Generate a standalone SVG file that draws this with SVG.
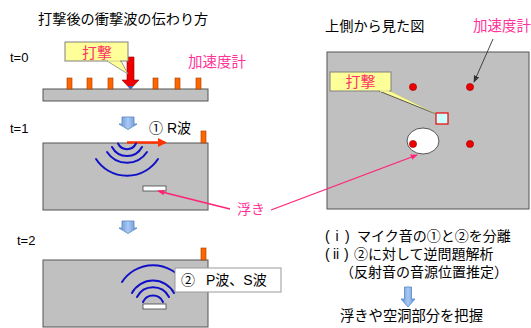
<svg xmlns="http://www.w3.org/2000/svg" width="531" height="328" viewBox="0 0 531 328">
  <style>
    .t { font-family: "Liberation Sans", "Noto Sans CJK JP", sans-serif; fill: #000; }
    .pink { fill: #ff3399; }
    .hit { fill: #ff3366; }
    .slab { fill: #c0c0c0; stroke: #555; stroke-width: 1; }
    .sensor { fill: #ff6600; stroke: #a03a00; stroke-width: 0.6; }
    .wave { fill: none; stroke: #1010c8; stroke-width: 2; stroke-linecap: round; }
    .callout { fill: #ffff99; stroke: #808080; stroke-width: 1; }
    .dot { fill: #ee0000; stroke: #990000; stroke-width: 0.6; }
    .down { fill: url(#blueGrad); stroke: #5b87c5; stroke-width: 0.8; }
    .lead { stroke: #ff2277; stroke-width: 1.3; fill: none; }
  </style>
  <defs>
    <linearGradient id="blueGrad" x1="0" y1="0" x2="1" y2="0">
      <stop offset="0" stop-color="#5d8fd8"/>
      <stop offset="0.5" stop-color="#a9c9f2"/>
      <stop offset="1" stop-color="#5d8fd8"/>
    </linearGradient>
    <marker id="pinkHead" viewBox="0 0 10 10" refX="9" refY="5" markerWidth="7" markerHeight="7" orient="auto" markerUnits="userSpaceOnUse">
      <path d="M0,1 L10,5 L0,9 z" fill="#ff2277"/>
    </marker>
    <marker id="darkHead" viewBox="0 0 10 10" refX="9" refY="5" markerWidth="7" markerHeight="7" orient="auto" markerUnits="userSpaceOnUse">
      <path d="M0,1 L10,5 L0,9 z" fill="#333"/>
    </marker>
    <marker id="redHead" viewBox="0 0 10 10" refX="8" refY="5" markerWidth="9" markerHeight="9" orient="auto" markerUnits="userSpaceOnUse">
      <path d="M0,0 L10,5 L0,10 z" fill="#ff3300"/>
    </marker>
  </defs>

  <rect width="531" height="328" fill="#fff"/>

  <!-- left column: side views over time -->
  <text class="t" x="38" y="24" font-size="14.2">打撃後の衝撃波の伝わり方</text>

  <g id="step0">
    <text class="t" x="10" y="62" font-size="13">t=0</text>
    <rect class="slab" x="43" y="89" width="165" height="12"/>
    <g>
      <rect class="sensor" x="67" y="78" width="5" height="11"/>
      <rect class="sensor" x="87" y="78" width="5" height="11"/>
      <rect class="sensor" x="108" y="78" width="5" height="11"/>
      <rect class="sensor" x="153" y="78" width="5" height="11"/>
      <rect class="sensor" x="175" y="78" width="5" height="11"/>
      <rect class="sensor" x="196" y="78" width="5" height="11"/>
    </g>
    <text class="t pink" x="188" y="67" font-size="14.5">加速度計</text>
  </g>

  <g id="hammer">
    <path d="M127,57 H134 V80 H139 L130.5,89 L122,80 H127 Z" fill="#ee0000" stroke="#990000" stroke-width="0.6"/>
    <path d="M128,86 L130.5,89.5 L133,86 Z" fill="#3366cc"/>
  </g>

  <g id="hitCallout">
    <path d="M107,61 L128,74 L121,61 Z" fill="#ffff99" stroke="#808080" stroke-width="0.8"/>
    <rect class="callout" x="65" y="42" width="63" height="19"/>
    <path d="M108,61 H120" stroke="#ffff99" stroke-width="1.4"/>
    <text class="t hit" x="97" y="58" font-size="15" text-anchor="middle">打撃</text>
  </g>

  <g id="arrow1">
    <path class="down" d="M122,117 H134 V124 H137 L128,129.5 L119,124 H122 Z"/>
  </g>

  <g id="step1">
    <text class="t" x="10" y="133" font-size="13">t=1</text>
    <rect class="slab" x="43" y="143" width="165" height="67"/>
    <rect class="sensor" x="201" y="131" width="5" height="12"/>
    <!-- surface (Rayleigh) wave -->
    <path d="M127,142.5 H165" stroke="#ff3300" stroke-width="2.6" marker-end="url(#redHead)"/>
    <path class="wave" d="M118,143.5 A10,10 0 0 0 136,143.5"/>
    <path class="wave" d="M112,147 A17,17 0 0 0 142,147"/>
    <path class="wave" d="M107,152 A24,24 0 0 0 147,152"/>
    <path class="wave" d="M96,159 A37,37 0 0 0 158,159"/>
    <rect x="143" y="186" width="23" height="5" fill="#fff" stroke="#444" stroke-width="0.8"/>
    <text class="t" x="149" y="133" font-size="14">① R波</text>
  </g>

  <g id="arrow2">
    <path class="down" d="M122,221 H134 V228 H137 L128,233.5 L119,228 H122 Z"/>
  </g>

  <g id="step2">
    <text class="t" x="17" y="245" font-size="13">t=2</text>
    <rect class="slab" x="43" y="260" width="165" height="67"/>
    <rect class="sensor" x="201" y="248" width="5" height="12"/>
    <!-- reflected body waves -->
    <path class="wave" d="M143,302 A11,11 0 0 1 163,302"/>
    <path class="wave" d="M137,297 A18,18 0 0 1 169,297"/>
    <path class="wave" d="M132,293 A24,24 0 0 1 174,293"/>
    <path class="wave" d="M122,282 A37,37 0 0 1 184,282"/>
    <rect x="143" y="304" width="23" height="5" fill="#fff" stroke="#444" stroke-width="0.8"/>
    <g id="waveLabel">
      <rect x="175" y="268" width="106" height="24" fill="#fff" stroke="#999" stroke-width="1"/>
      <text class="t" y="284.5" font-size="14"><tspan x="181">②</tspan><tspan x="206">P波、S波</tspan></text>
    </g>
  </g>

  <!-- right column: plan view -->
  <text class="t" x="325" y="30.5" font-size="14.2">上側から見た図</text>

  <g id="plan">
    <rect class="slab" x="327" y="52" width="202" height="157"/>
    <ellipse cx="423" cy="141" rx="16" ry="13" fill="#fff" stroke="#555" stroke-width="1"/>
    <circle class="dot" cx="413" cy="87" r="3.6"/>
    <circle class="dot" cx="470" cy="87" r="3.6"/>
    <circle class="dot" cx="413" cy="144" r="3.6"/>
    <circle class="dot" cx="470" cy="144" r="3.6"/>
    <rect x="436" y="113" width="12" height="11" fill="#ccffff" stroke="#ee0000" stroke-width="1.2"/>
  </g>

  <g id="planCallout">
    <path d="M379,91 L436,114 L390,91 Z" fill="#ffff99" stroke="none"/>
    <path d="M379,91 L436,114" stroke="#333" stroke-width="0.8"/>
    <path d="M390,91 L436,114" stroke="#c8c880" stroke-width="0.6"/>
    <rect class="callout" x="330" y="72" width="61" height="19"/>
    <path d="M380,91 H389" stroke="#ffff99" stroke-width="1.4"/>
    <text class="t hit" x="360.5" y="86.5" font-size="15" text-anchor="middle">打撃</text>
  </g>

  <g id="sensorLabel">
    <text class="t pink" x="473" y="31" font-size="14.5">加速度計</text>
  </g>

  <g id="voidLabel">
    <text class="t pink" x="237" y="214" font-size="14">浮き</text>
  </g>

  <g id="connectors">
    <path class="lead" d="M230,209 L158,191" marker-end="url(#pinkHead)"/>
    <path class="lead" d="M271,210 L417,155" marker-end="url(#pinkHead)"/>
    <path d="M493,39 L474,82" stroke="#333" stroke-width="0.9" marker-end="url(#darkHead)"/>
  </g>

  <g id="procedure">
    <text class="t" y="241" font-size="14"><tspan x="325">(</tspan><tspan x="335.5">i</tspan><tspan x="345">)</tspan><tspan x="357">マイク音の①と②を分離</tspan></text>
    <text class="t" y="259" font-size="14"><tspan x="325">(</tspan><tspan x="333">ii</tspan><tspan x="344">)</tspan><tspan x="354">②に対して逆問題解析</tspan></text>
    <text class="t" x="340" y="277" font-size="14">（反射音の音源位置推定）</text>
    <path class="down" d="M404.5,287 H411.5 V299 H415 L408,307 L401,299 H404.5 Z"/>
    <text class="t" x="340" y="321" font-size="14.3">浮きや空洞部分を把握</text>
  </g>
</svg>
